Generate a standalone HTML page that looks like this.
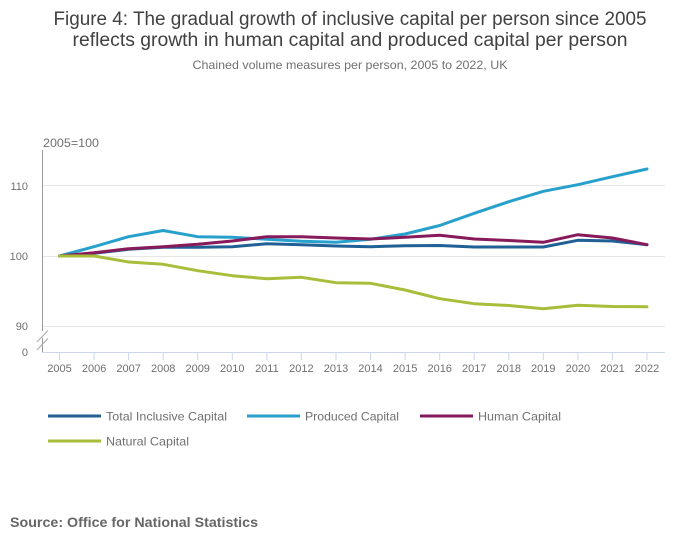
<!DOCTYPE html>
<html><head><meta charset="utf-8"><style>
html,body{margin:0;padding:0;background:#fff;}
svg{display:block;}
text{font-family:"Liberation Sans",sans-serif;}
</style></head><body>
<svg width="700" height="549" viewBox="0 0 700 549" xmlns="http://www.w3.org/2000/svg">
<rect width="700" height="549" fill="#fff"/>
<text x="350" y="25" text-anchor="middle" font-size="19" fill="#414042" textLength="593" lengthAdjust="spacingAndGlyphs">Figure 4: The gradual growth of inclusive capital per person since 2005</text>
<text x="350" y="46" text-anchor="middle" font-size="19" fill="#414042" textLength="555" lengthAdjust="spacingAndGlyphs">reflects growth in human capital and produced capital per person</text>
<text x="350" y="69" text-anchor="middle" font-size="12" fill="#707070" textLength="315" lengthAdjust="spacingAndGlyphs">Chained volume measures per person, 2005 to 2022, UK</text>
<text x="43" y="147" font-size="12" fill="#707070" textLength="56" lengthAdjust="spacingAndGlyphs">2005=100</text>
<g stroke="#e6e6e6" stroke-width="1">
<line x1="42" y1="185.5" x2="665" y2="185.5"/>
<line x1="42" y1="256.5" x2="665" y2="256.5"/>
<line x1="42" y1="326.5" x2="665" y2="326.5"/>
</g>
<g font-size="11" fill="#707070" text-anchor="end">
<text x="28" y="190">110</text>
<text x="28" y="260">100</text>
<text x="28" y="330">90</text>
<text x="28" y="356">0</text>
</g>
<line x1="42.5" y1="150" x2="42.5" y2="331" stroke="#999" stroke-width="1"/>
<line x1="42.5" y1="338" x2="42.5" y2="352" stroke="#999" stroke-width="1"/>
<line x1="37" y1="342" x2="48" y2="330.5" stroke="#aaa" stroke-width="1"/>
<line x1="37" y1="350" x2="48" y2="338.5" stroke="#aaa" stroke-width="1"/>
<line x1="42" y1="352.5" x2="665" y2="352.5" stroke="#ccd6eb" stroke-width="1"/>
<g stroke="#ccd6eb" stroke-width="1">
<line x1="59.5" y1="352" x2="59.5" y2="360"/><line x1="94.1" y1="352" x2="94.1" y2="360"/><line x1="128.6" y1="352" x2="128.6" y2="360"/><line x1="163.2" y1="352" x2="163.2" y2="360"/><line x1="197.7" y1="352" x2="197.7" y2="360"/><line x1="232.3" y1="352" x2="232.3" y2="360"/><line x1="266.9" y1="352" x2="266.9" y2="360"/><line x1="301.4" y1="352" x2="301.4" y2="360"/><line x1="336" y1="352" x2="336" y2="360"/><line x1="370.5" y1="352" x2="370.5" y2="360"/><line x1="405.1" y1="352" x2="405.1" y2="360"/><line x1="439.7" y1="352" x2="439.7" y2="360"/><line x1="474.2" y1="352" x2="474.2" y2="360"/><line x1="508.8" y1="352" x2="508.8" y2="360"/><line x1="543.3" y1="352" x2="543.3" y2="360"/><line x1="577.9" y1="352" x2="577.9" y2="360"/><line x1="612.5" y1="352" x2="612.5" y2="360"/><line x1="647" y1="352" x2="647" y2="360"/>
</g>
<g font-size="11" fill="#707070" text-anchor="middle">
<text x="59.5" y="372">2005</text><text x="94.1" y="372">2006</text><text x="128.6" y="372">2007</text><text x="163.2" y="372">2008</text><text x="197.7" y="372">2009</text><text x="232.3" y="372">2010</text><text x="266.9" y="372">2011</text><text x="301.4" y="372">2012</text><text x="336" y="372">2013</text><text x="370.5" y="372">2014</text><text x="405.1" y="372">2015</text><text x="439.7" y="372">2016</text><text x="474.2" y="372">2017</text><text x="508.8" y="372">2018</text><text x="543.3" y="372">2019</text><text x="577.9" y="372">2020</text><text x="612.5" y="372">2021</text><text x="647" y="372">2022</text>
</g>
<g fill="none" stroke-width="3" stroke-linejoin="round" stroke-linecap="round">
<polyline stroke="#206095" points="59.5,256 94.1,253.3 128.6,249.3 163.2,247.3 197.7,247.3 232.3,246.7 266.9,243.7 301.4,244.7 336,246 370.5,246.7 405.1,245.7 439.7,245.5 474.2,247 508.8,247 543.3,247 577.9,240.3 612.5,241 647,244.7"/>
<polyline stroke="#27a0cc" points="59.5,256 94.1,246.7 128.6,236.7 163.2,230.5 197.7,236.7 232.3,237.3 266.9,239.3 301.4,241.3 336,242.3 370.5,239.3 405.1,234 439.7,225.5 474.2,213.3 508.8,201.7 543.3,191.3 577.9,184.7 612.5,176.7 647,169"/>
<polyline stroke="#871a5b" points="59.5,256 94.1,252.7 128.6,248.7 163.2,246.7 197.7,244.3 232.3,241 266.9,236.7 301.4,236.7 336,238 370.5,239 405.1,237.3 439.7,235.3 474.2,239 508.8,240.5 543.3,242.3 577.9,234.7 612.5,238 647,244.7"/>
<polyline stroke="#a8bd3a" points="59.5,256 94.1,256 128.6,262 163.2,264.3 197.7,270.7 232.3,275.7 266.9,278.7 301.4,277.3 336,282.7 370.5,283.3 405.1,290 439.7,298.7 474.2,303.7 508.8,305.5 543.3,308.7 577.9,305.3 612.5,306.5 647,306.7"/>
</g>
<g stroke-width="3">
<line x1="48" y1="416" x2="101" y2="416" stroke="#206095"/>
<line x1="247" y1="416" x2="300" y2="416" stroke="#27a0cc"/>
<line x1="420" y1="416" x2="473" y2="416" stroke="#871a5b"/>
<line x1="48" y1="441" x2="101" y2="441" stroke="#a8bd3a"/>
</g>
<g font-size="12" fill="#707070">
<text x="106" y="420.5" textLength="121" lengthAdjust="spacingAndGlyphs">Total Inclusive Capital</text>
<text x="305" y="420.5" textLength="94" lengthAdjust="spacingAndGlyphs">Produced Capital</text>
<text x="478" y="420.5" textLength="83" lengthAdjust="spacingAndGlyphs">Human Capital</text>
<text x="106" y="445.5" textLength="83" lengthAdjust="spacingAndGlyphs">Natural Capital</text>
</g>
<text x="10" y="527" font-size="14" font-weight="bold" fill="#666" textLength="248" lengthAdjust="spacingAndGlyphs">Source: Office for National Statistics</text>
</svg>
</body></html>
